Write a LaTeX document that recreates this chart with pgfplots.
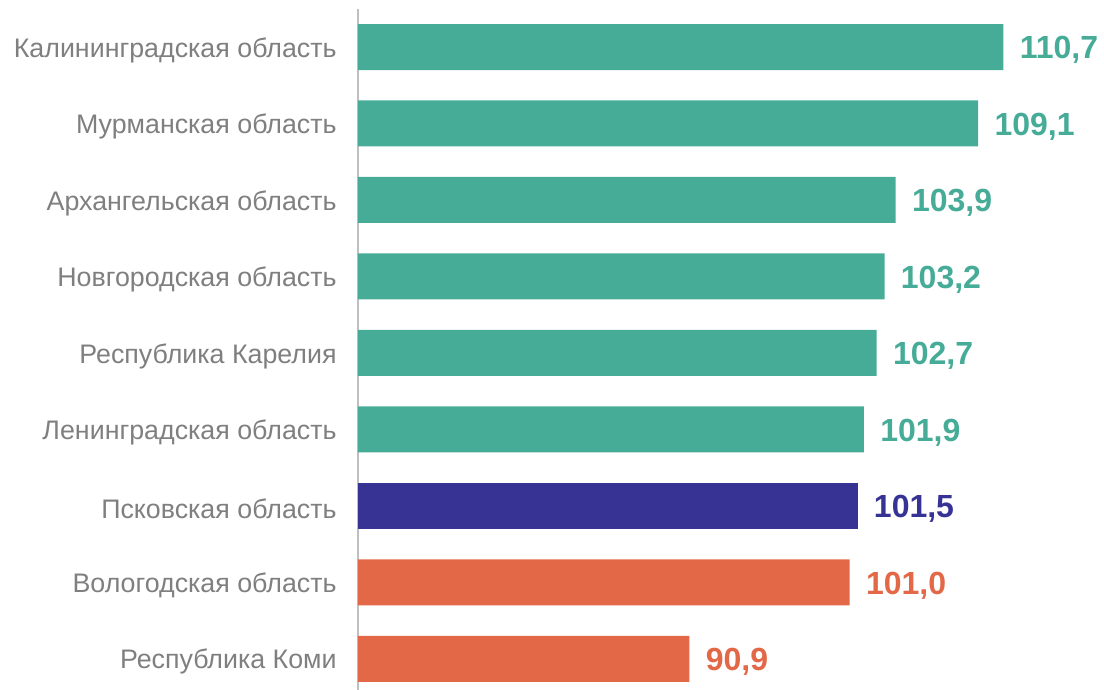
\documentclass[border=0pt]{standalone}
\usepackage{pgfplots}
\pgfplotsset{compat=1.18}
\usepackage{fontspec}
\setmainfont{Liberation Sans}
\definecolor{teal}{HTML}{46AC98}
\definecolor{dblue}{HTML}{373395}
\definecolor{orng}{HTML}{E36847}
\definecolor{lbl}{HTML}{7F7F7F}
\definecolor{axl}{HTML}{BFBFBF}
\begin{document}
\begin{tikzpicture}
\useasboundingbox (-179pt,4.375pt) rectangle (373pt,-340.625pt);
\begin{axis}[
  at={(0,0)}, anchor=north west,
  scale only axis,
  width=372.7pt, height=340.4pt,
  xbar, bar width=23pt, bar shift=0pt,
  xmin=70, xmax=117,
  ymin=-0.5, ymax=8.4,
  y dir=reverse,
  axis x line=none,
  axis y line*=left,
  y axis line style={axl, line width=1pt},
  ytick={0,...,8},
  yticklabels={Калининградская область, Мурманская область, Архангельская область, Новгородская область, Республика Карелия, Ленинградская область, Псковская область, Вологодская область, Республика Коми},
  major tick length=0pt,
  yticklabel style={font=\fontsize{13.4pt}{15pt}\selectfont, text=lbl, anchor=east, inner sep=0pt, xshift=-10.5pt, yshift=-1.5pt},
  nodes near coords,
  nodes near coords style={font=\fontsize{16pt}{18pt}\selectfont\bfseries, anchor=west, inner sep=0pt, xshift=8pt, yshift=-1.5pt},
  /pgf/number format/.cd, fixed, fixed zerofill, precision=1, use comma, assume math mode=true,
]
\addplot[fill=teal, draw=none, nodes near coords style={text=teal}] coordinates {
(110.7,0) (109.1,1) (103.9,2) (103.2,3) (102.7,4) (101.9,5)};
\addplot[fill=dblue, draw=none, nodes near coords style={text=dblue}] coordinates {
(101.5,6)};
\addplot[fill=orng, draw=none, nodes near coords style={text=orng}] coordinates {
(101.0,7) (90.9,8)};
\end{axis}
\end{tikzpicture}
\end{document}
